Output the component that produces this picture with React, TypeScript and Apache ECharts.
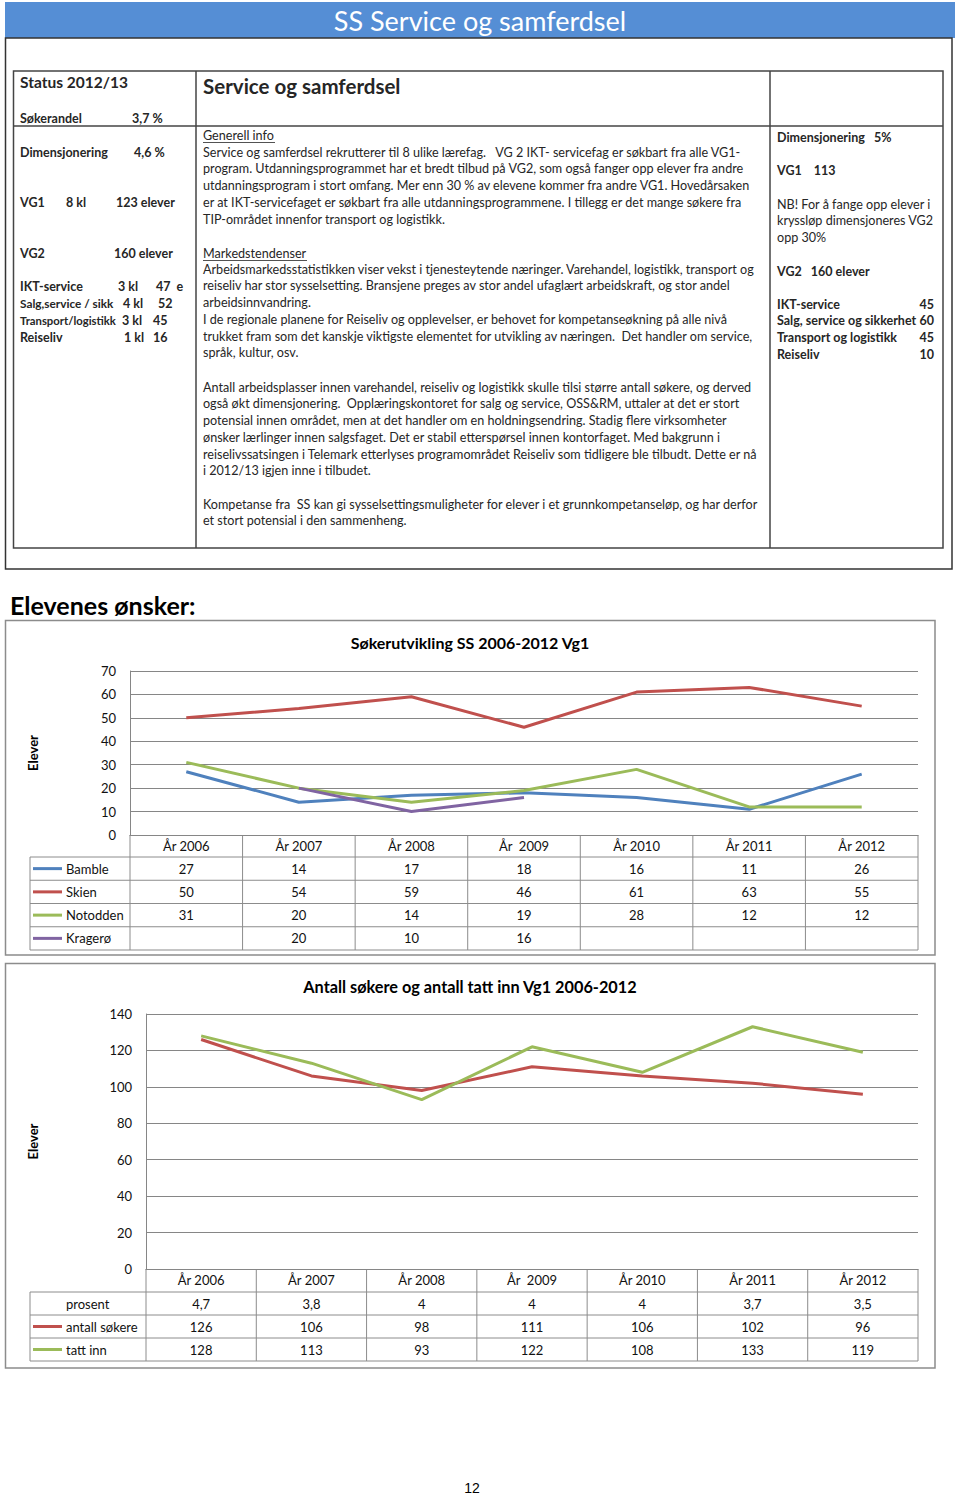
import React, { useEffect, useRef } from "react";
import * as echarts from "echarts";

// ---------- data ----------
const years = ["År 2006", "År 2007", "År 2008", "År  2009", "År 2010", "År 2011", "År 2012"];
const bamble = [27, 14, 17, 18, 16, 11, 26];
const skien = [50, 54, 59, 46, 61, 63, 55];
const notodden = [31, 20, 14, 19, 28, 12, 12];
const kragero: (number | null)[] = [null, 20, 10, 16, null, null, null];
const chart1Ticks = [0, 70, 10];

const prosent = [4.7, 3.8, 4, 4, 4, 3.7, 3.5];
const antallSokere = [126, 106, 98, 111, 106, 102, 96];
const tattInn = [128, 113, 93, 122, 108, 133, 119];
const chart2Ticks = [0, 140, 20];

const series1Names = ["Bamble", "Skien", "Notodden", "Kragerø"];
const series1Colors = ["#4F81BD", "#C0504D", "#9BBB59", "#8064A2"];

// ---------- texts ----------
const pageTitle = "SS Service og samferdsel";
const leftCol = [
  ["Søkerandel", "3,7 %", ""],
  ["Dimensjonering", "4,6 %", ""],
  ["VG1", "8 kl", "123 elever"],
  ["VG2", "", "160 elever"],
  ["IKT-service", "3 kl", "47  e"],
  ["Salg,service / sikk", "4 kl", "52"],
  ["Transport/logistikk", "3 kl", "45"],
  ["Reiseliv", "1 kl", "16"],
];
const para1 = [
  "Service og samferdsel rekrutterer til 8 ulike lærefag.   VG 2 IKT- servicefag er søkbart fra alle VG1-",
  "program. Utdanningsprogrammet har et bredt tilbud på VG2, som også fanger opp elever fra andre",
  "utdanningsprogram i stort omfang. Mer enn 30 % av elevene kommer fra andre VG1. Hovedårsaken",
  "er at IKT-servicefaget er søkbart fra alle utdanningsprogrammene. I tillegg er det mange søkere fra",
  "TIP-området innenfor transport og logistikk.",
];
const para2 = [
  "Arbeidsmarkedsstatistikken viser vekst i tjenesteytende næringer. Varehandel, logistikk, transport og",
  "reiseliv har stor sysselsetting. Bransjene preges av stor andel ufaglært arbeidskraft, og stor andel",
  "arbeidsinnvandring.",
  "I de regionale planene for Reiseliv og opplevelser, er behovet for kompetanseøkning på alle nivå",
  "trukket fram som det kanskje viktigste elementet for utvikling av næringen.  Det handler om service,",
  "språk, kultur, osv.",
];
const para3 = [
  "Antall arbeidsplasser innen varehandel, reiseliv og logistikk skulle tilsi større antall søkere, og derved",
  "også økt dimensjonering.  Opplæringskontoret for salg og service, OSS&RM, uttaler at det er stort",
  "potensial innen området, men at det handler om en holdningsendring. Stadig flere virksomheter",
  "ønsker lærlinger innen salgsfaget. Det er stabil etterspørsel innen kontorfaget. Med bakgrunn i",
  "reiselivssatsingen i Telemark etterlyses programområdet Reiseliv som tidligere ble tilbudt. Dette er nå",
  "i 2012/13 igjen inne i tilbudet.",
];
const para4 = [
  "Kompetanse fra  SS kan gi sysselsettingsmuligheter for elever i et grunnkompetanseløp, og har derfor",
  "et stort potensial i den sammenheng.",
];
const rightTop = ["NB! For å fange opp elever i", "kryssløp dimensjoneres VG2", "opp 30%"];
const rightList = [
  ["IKT-service", "45"],
  ["Salg, service og sikkerhet", "60"],
  ["Transport og logistikk", "45"],
  ["Reiseliv", "10"],
];

const FONT = "Lato, 'Open Sans', sans-serif";
const TXT = "#262626";
const PSIZE = 12.6;

function t(x: number, y: number, text: string, o: any = {}) {
  return {
    type: "text",
    x,
    y,
    silent: true,
    style: {
      text,
      fill: o.fill || TXT,
      fontSize: o.size || 12.5,
      fontFamily: o.family || FONT,
      fontWeight: o.bold ? "bold" : "normal",
      align: o.align || "left",
      verticalAlign: "middle",
    },
  };
}
function ln(x1: number, y1: number, x2: number, y2: number, stroke = "#888", lineWidth = 1) {
  return { type: "line", silent: true, shape: { x1, y1, x2, y2 }, style: { stroke, lineWidth } };
}
function box(x: number, y: number, w: number, h: number, stroke: string, lineWidth = 1, fill = "none") {
  return { type: "rect", silent: true, shape: { x, y, width: w, height: h }, style: { fill, stroke, lineWidth } };
}

function buildGraphic() {
  const g: any[] = [];
  // page header
  g.push(box(5, 2, 950, 36, "none", 0, "#558ED5"));
  g.push(t(480, 20, pageTitle, { size: 27, fill: "#ffffff", align: "center" }));
  g.push(box(5.5, 38, 946.5, 531, "#333", 1.5));
  // inner info table
  g.push(box(13.5, 71, 929.5, 477, "#444", 1.5));
  g.push(ln(13.5, 126, 943, 126, "#444", 1.5));
  g.push(ln(196, 71, 196, 548, "#444", 1.5));
  g.push(ln(770, 71, 770, 548, "#444", 1.5));

  // left column
  g.push(t(20, 82, "Status 2012/13", { size: 15.5, bold: true }));
  const leftY = [118, 152, 202, 253, 286, 303, 320, 337];
  const leftX2 = [132, 134, 66, 0, 118, 123, 122, 124];
  const leftX3 = [0, 0, 116, 114, 156, 158, 153, 153];
  const leftSize = [12.5, 12.5, 12.5, 12.5, 12.5, 11.8, 11.3, 12.5];
  leftCol.forEach((r, i) => {
    g.push(t(20, leftY[i], r[0], { bold: true, size: leftSize[i] }));
    if (r[1]) g.push(t(leftX2[i], leftY[i], r[1], { bold: true }));
    if (r[2]) g.push(t(leftX3[i], leftY[i], r[2], { bold: true }));
  });

  // middle column
  g.push(t(203, 86, "Service og samferdsel", { size: 20.5, bold: true }));
  const lh = 16.75;
  g.push(t(203, 135, "Generell info", { size: PSIZE }));
  g.push(ln(203, 142.5, 275, 142.5, TXT, 0.8));
  para1.forEach((s, i) => g.push(t(203, 152 + i * lh, s, { size: PSIZE })));
  g.push(t(203, 253, "Markedstendenser", { size: PSIZE }));
  g.push(ln(203, 260.5, 307, 260.5, TXT, 0.8));
  para2.forEach((s, i) => g.push(t(203, 269 + i * lh, s, { size: PSIZE })));
  para3.forEach((s, i) => g.push(t(203, 387 + i * lh, s, { size: PSIZE })));
  para4.forEach((s, i) => g.push(t(203, 504 + i * lh, s, { size: PSIZE })));

  // right column
  g.push(t(777, 137, "Dimensjonering   5%", { bold: true }));
  g.push(t(777, 170, "VG1    113", { bold: true }));
  rightTop.forEach((s, i) => g.push(t(777, 204 + i * lh, s, { size: PSIZE })));
  g.push(t(777, 271, "VG2   160 elever", { bold: true }));
  rightList.forEach((r, i) => {
    g.push(t(777, 304 + i * lh, r[0], { bold: true }));
    g.push(t(934, 304 + i * lh, r[1], { bold: true, align: "right" }));
  });

  // section heading
  g.push(t(10, 605, "Elevenes ønsker:", { size: 25, bold: true, fill: "#000" }));

  // chart frames
  g.push(box(5.5, 620.5, 929.5, 334.5, "#8c8c8c", 1.5));
  g.push(box(5.5, 963.5, 929.5, 404.5, "#8c8c8c", 1.5));
  g.push(t(470, 642, "Søkerutvikling SS 2006-2012 Vg1", { size: 16, bold: true, align: "center", fill: "#000" }));
  g.push(t(470, 986, "Antall søkere og antall tatt inn Vg1 2006-2012", { size: 16.3, bold: true, align: "center", fill: "#000" }));

  // data table 1
  const T1 = { left: 130, right: 918, axisY: 835, headH: 22, rowH: 23.25, tl: 30 };
  const cw1 = (T1.right - T1.left) / years.length;
  const rows1 = [bamble, skien, notodden, kragero];
  const top1 = T1.axisY + T1.headH;
  const bot1 = top1 + rows1.length * T1.rowH;
  for (let i = 0; i <= years.length; i++) g.push(ln(T1.left + i * cw1, T1.axisY, T1.left + i * cw1, bot1, "#8c8c8c"));
  g.push(ln(T1.tl, top1, T1.tl, bot1, "#8c8c8c"));
  for (let r = 0; r <= rows1.length; r++) g.push(ln(T1.tl, top1 + r * T1.rowH, T1.right, top1 + r * T1.rowH, "#8c8c8c"));
  rows1.forEach((arr, r) => {
    const cy = top1 + r * T1.rowH + T1.rowH / 2;
    g.push(ln(33, cy, 62, cy, series1Colors[r], 3));
    g.push(t(66, cy, series1Names[r], { size: 13, fill: "#111" }));
    arr.forEach((v, i) => {
      if (v !== null) g.push(t(T1.left + (i + 0.5) * cw1, cy, String(v), { size: 13, align: "center", fill: "#111" }));
    });
  });

  // data table 2
  const T2 = { left: 146, right: 918, axisY: 1269, headH: 23, rowH: 23, tl: 30 };
  const cw2 = (T2.right - T2.left) / years.length;
  const rows2: { name: string; color: string | null; vals: string[] }[] = [
    { name: "prosent", color: null, vals: prosent.map((v) => String(v).replace(".", ",")) },
    { name: "antall søkere", color: "#C0504D", vals: antallSokere.map(String) },
    { name: "tatt inn", color: "#9BBB59", vals: tattInn.map(String) },
  ];
  const top2 = T2.axisY + T2.headH;
  const bot2 = top2 + rows2.length * T2.rowH;
  for (let i = 0; i <= years.length; i++) g.push(ln(T2.left + i * cw2, T2.axisY, T2.left + i * cw2, bot2, "#8c8c8c"));
  g.push(ln(T2.tl, top2, T2.tl, bot2, "#8c8c8c"));
  for (let r = 0; r <= rows2.length; r++) g.push(ln(T2.tl, top2 + r * T2.rowH, T2.right, top2 + r * T2.rowH, "#8c8c8c"));
  rows2.forEach((row, r) => {
    const cy = top2 + r * T2.rowH + T2.rowH / 2;
    if (row.color) g.push(ln(33, cy, 62, cy, row.color, 3));
    g.push(t(66, cy, row.name, { size: 13, fill: "#111" }));
    row.vals.forEach((v, i) => g.push(t(T2.left + (i + 0.5) * cw2, cy, v, { size: 13, align: "center", fill: "#111" })));
  });

  // page number
  g.push(t(472, 1488, "12", { size: 14, family: "'Liberation Sans', Arial, sans-serif", align: "center", fill: "#000" }));
  return g;
}

function catAxis(gridIndex: number) {
  return {
    gridIndex,
    type: "category",
    data: years,
    boundaryGap: true,
    axisLine: { show: true, lineStyle: { color: "#868686", width: 1 } },
    axisTick: { show: false },
    axisLabel: { interval: 0, margin: 4, fontSize: 13, color: "#111", fontFamily: FONT },
    splitLine: { show: false },
  };
}
function valAxis(gridIndex: number, ticks: number[], nameGap: number) {
  return {
    gridIndex,
    type: "value",
    min: ticks[0],
    max: ticks[1],
    interval: ticks[2],
    axisLine: { show: true, lineStyle: { color: "#868686", width: 1 } },
    axisTick: { show: false },
    splitLine: { show: true, lineStyle: { color: "#868686", width: 1 } },
    axisLabel: { margin: 14, fontSize: 13, color: "#111", fontFamily: FONT },
    name: "Elever",
    nameLocation: "middle",
    nameGap,
    nameRotate: 90,
    nameTextStyle: { fontWeight: "bold", fontSize: 13, color: "#000", fontFamily: FONT },
  };
}
function lineSeries(name: string, data: (number | null)[], color: string, idx: number) {
  return {
    name,
    type: "line",
    xAxisIndex: idx,
    yAxisIndex: idx,
    data,
    symbol: "none",
    connectNulls: false,
    lineStyle: { color, width: 3 },
    itemStyle: { color },
  };
}

export default function App() {
  const ref = useRef<HTMLDivElement>(null);
  useEffect(() => {
    if (!ref.current) return;
    const chart = echarts.init(ref.current, null, { renderer: "svg" });
    chart.setOption({
      animation: false,
      backgroundColor: "#ffffff",
      textStyle: { fontFamily: FONT },
      grid: [
        { left: 130, top: 671, width: 788, height: 164 },
        { left: 146, top: 1014, width: 772, height: 255 },
      ],
      xAxis: [catAxis(0), catAxis(1)],
      yAxis: [valAxis(0, chart1Ticks, 91), valAxis(1, chart2Ticks, 107)],
      series: [
        lineSeries("Bamble", bamble, series1Colors[0], 0),
        lineSeries("Skien", skien, series1Colors[1], 0),
        lineSeries("Notodden", notodden, series1Colors[2], 0),
        lineSeries("Kragerø", kragero, series1Colors[3], 0),
        lineSeries("antall søkere", antallSokere, "#C0504D", 1),
        lineSeries("tatt inn", tattInn, "#9BBB59", 1),
      ],
      graphic: buildGraphic(),
    });
    return () => chart.dispose();
  }, []);
  return <div ref={ref} style={{ position: "absolute", left: 0, top: 0, width: 960, height: 1496 }} />;
}
